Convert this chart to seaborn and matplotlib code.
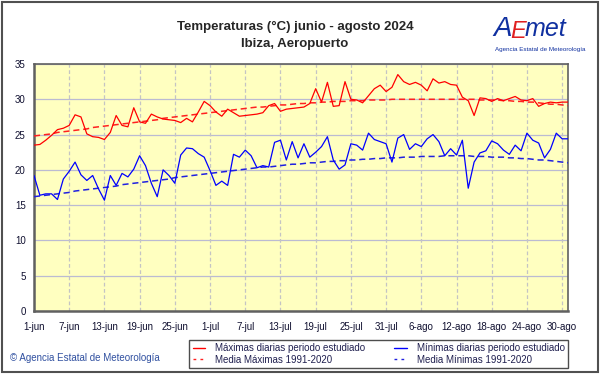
import numpy as np
import pandas as pd
import matplotlib
import matplotlib.pyplot as plt
import seaborn as sns
from matplotlib.lines import Line2D

matplotlib.use('Agg')

# Daily values, 1 June .. 31 August 2024 (92 days)
t_max = [23.5, 23.6, 24.2, 24.9, 25.7, 25.9, 26.3, 27.8, 27.5, 25.1,
         24.7, 24.6, 24.3, 25.3, 27.7, 26.3, 26.1, 28.8, 26.8, 26.6,
         27.9, 27.5, 27.2, 27.1, 27.0, 26.7, 27.3, 26.8, 28.2, 29.7,
         29.1, 28.2, 27.6, 28.6, 28.1, 27.6, 27.7, 27.8, 27.9, 28.1,
         29.1, 29.4, 28.3, 28.6, 28.7, 28.8, 28.9, 29.4, 31.5, 29.6,
         32.4, 29.0, 29.1, 32.5, 30.0, 29.9, 29.5, 30.5, 31.5, 32.0,
         31.1, 31.7, 33.5, 32.5, 32.1, 32.4, 32.0, 31.2, 32.9, 32.3,
         32.5, 32.1, 32.0, 30.3, 29.8, 27.7, 30.2, 30.1, 29.7, 30.1,
         29.8, 30.1, 30.4, 29.9, 29.8, 30.1, 29.0, 29.4, 29.6, 29.5,
         29.6, 29.6]

t_min = [19.2, 16.4, 16.6, 16.6, 15.8, 18.7, 19.8, 21.1, 19.3, 18.5,
         19.2, 17.3, 15.7, 19.2, 17.8, 19.5, 19.0, 20.1, 22.0, 20.6,
         18.1, 16.2, 20.0, 19.2, 18.1, 22.1, 23.1, 23.0, 22.3, 21.8,
         19.9, 17.8, 18.4, 17.8, 22.2, 21.8, 22.8, 22.0, 20.3, 20.6,
         20.4, 23.9, 24.2, 21.4, 24.0, 21.7, 23.7, 21.8, 22.5, 23.3,
         24.7, 21.4, 20.1, 20.7, 23.7, 23.5, 22.8, 25.2, 24.3, 24.0,
         23.7, 21.1, 24.5, 25.0, 22.9, 23.7, 23.3, 24.4, 25.0, 24.0,
         22.0, 23.0, 22.1, 24.2, 17.4, 21.1, 22.4, 22.7, 24.1, 23.7,
         22.8, 22.2, 23.5, 22.7, 25.2, 24.2, 23.8, 21.7, 22.9, 25.2,
         24.4, 24.4]

# Climatological means 1991-2020
norm_max = [24.8, 24.9, 25.0, 25.1, 25.3, 25.4, 25.5, 25.6, 25.7, 25.8,
            26.0, 26.1, 26.2, 26.3, 26.4, 26.5, 26.6, 26.7, 26.8, 26.9,
            27.0, 27.1, 27.3, 27.4, 27.5, 27.6, 27.7, 27.8, 27.9, 28.0,
            28.1, 28.2, 28.3, 28.4, 28.5, 28.6, 28.7, 28.8, 28.9, 28.9,
            29.0, 29.1, 29.2, 29.2, 29.3, 29.4, 29.4, 29.5, 29.5, 29.6,
            29.6, 29.7, 29.7, 29.7, 29.8, 29.8, 29.8, 29.9, 29.9, 29.9,
            29.9, 30.0, 30.0, 30.0, 30.0, 30.0, 30.0, 30.0, 30.0, 30.0,
            30.0, 30.0, 30.0, 30.0, 30.0, 30.0, 29.9, 29.9, 29.9, 29.9,
            29.8, 29.8, 29.7, 29.7, 29.6, 29.6, 29.5, 29.4, 29.3, 29.3,
            29.2, 29.1]

norm_min = [16.2, 16.3, 16.4, 16.5, 16.6, 16.7, 16.8, 17.0, 17.1, 17.2,
            17.3, 17.4, 17.5, 17.6, 17.7, 17.9, 18.0, 18.1, 18.2, 18.3,
            18.4, 18.5, 18.6, 18.7, 18.9, 19.0, 19.1, 19.2, 19.3, 19.4,
            19.5, 19.6, 19.7, 19.8, 19.9, 20.0, 20.1, 20.2, 20.3, 20.4,
            20.4, 20.5, 20.6, 20.7, 20.8, 20.8, 20.9, 21.0, 21.0, 21.1,
            21.2, 21.2, 21.3, 21.3, 21.4, 21.4, 21.5, 21.5, 21.6, 21.6,
            21.7, 21.7, 21.7, 21.8, 21.8, 21.8, 21.9, 21.9, 21.9, 21.9,
            22.0, 22.0, 22.0, 22.0, 22.0, 21.9, 21.9, 21.9, 21.8, 21.8,
            21.8, 21.7, 21.7, 21.6, 21.6, 21.5, 21.4, 21.4, 21.3, 21.2,
            21.1, 21.0]

tick_labels = ['1-jun', '7-jun', '13-jun', '19-jun', '25-jun', '1-jul', '7-jul',
               '13-jul', '19-jul', '25-jul', '31-jul', '6-ago', '12-ago',
               '18-ago', '24-ago', '30-ago']
y_ticks = [0, 5, 10, 15, 20, 25, 30, 35]

df = pd.DataFrame({
    'day': np.arange(len(t_max)),
    'tmax': t_max, 'tmin': t_min, 'nmax': norm_max, 'nmin': norm_min,
})

sns.set_style('white')
plt.rcParams['font.family'] = ['Liberation Sans', 'DejaVu Sans']

fig = plt.figure(figsize=(6.01, 3.74), dpi=100)
ax = fig.add_axes([34 / 601, 1 - 311 / 374, 534 / 601, 247 / 374])
ax.set_facecolor('#FFFFC0')

# grid first so lines sit on top
for y in y_ticks:
    ax.axhline(y, color='#BBBBD2', lw=0.9, zorder=1)
for i in range(len(tick_labels)):
    ax.axvline(i * 6, color='#C4C4C4', lw=0.9, ls=(0, (3, 2)), zorder=1)

sns.lineplot(data=df, x='day', y='nmax', ax=ax, color='#FF2020', lw=1.1,
             linestyle=(0, (4, 2.5)), zorder=3)
sns.lineplot(data=df, x='day', y='nmin', ax=ax, color='#2020E0', lw=1.1,
             linestyle=(0, (4, 2.5)), zorder=3)
sns.lineplot(data=df, x='day', y='tmax', ax=ax, color='#FF0000', lw=0.9, zorder=4)
sns.lineplot(data=df, x='day', y='tmin', ax=ax, color='#0000FF', lw=0.9, zorder=4)

ax.set_xlim(0, 91)
ax.set_ylim(0, 35)
ax.set_xticks([i * 6 for i in range(len(tick_labels))])
ax.set_xticklabels(tick_labels, fontsize=7)
ax.set_yticks(y_ticks)
ax.set_yticklabels([str(v) for v in y_ticks], fontsize=7)
ax.tick_params(length=0, pad=8, colors='#101030')
ax.tick_params(axis='y', pad=6)
ax.set_xlabel('')
ax.set_ylabel('')
for s in ax.spines.values():
    s.set_color('#606060')
    s.set_linewidth(1.2)
ax.spines['left'].set_linewidth(1.8)
ax.spines['bottom'].set_linewidth(1.8)

# title
title_font = ['Liberation Sans Narrow', 'Liberation Sans', 'DejaVu Sans']
fig.text(295 / 601, 1 - 27 / 374, 'Temperaturas (°C) junio - agosto 2024',
         ha='center', va='center', fontsize=9.5, fontweight='bold',
         family=title_font)
fig.text(295 / 601, 1 - 44 / 374, 'Ibiza, Aeropuerto',
         ha='center', va='center', fontsize=9.5, fontweight='bold',
         family=title_font)

# logo approximation
fig.text(493 / 601, 1 - 29 / 374, 'A', color='#1030A0', fontsize=20,
         style='italic', ha='left', va='center')
fig.text(510 / 601, 1 - 31 / 374, 'E', color='#E02020', fontsize=17,
         style='italic', ha='left', va='center')
fig.text(525 / 601, 1 - 29 / 374, 'met', color='#1030A0', fontsize=18,
         style='italic', ha='left', va='center')
fig.text(540 / 601, 1 - 50 / 374, 'Agencia Estatal de Meteorología',
         color='#1030A0', fontsize=4.5, ha='center', va='center')

# copyright
fig.text(10 / 601, 1 - 358 / 374, '© Agencia Estatal de Meteorología',
         color='#3050A0', fontsize=7, ha='left', va='center')

# legend
handles = [
    Line2D([], [], color='#FF0000', lw=1),
    Line2D([], [], color='#FF2020', lw=1, ls=(0, (2, 3))),
    Line2D([], [], color='#0000FF', lw=1),
    Line2D([], [], color='#2020E0', lw=1, ls=(0, (2, 3))),
]
labels = ['Máximas diarias periodo estudiado', 'Media Máximas 1991-2020',
          'Mínimas diarias periodo estudiado', 'Media Mínimas 1991-2020']
leg = fig.legend(handles, labels, ncol=2, loc='lower right',
                 bbox_to_anchor=(568 / 601, 1 - 368 / 374), fontsize=7,
                 frameon=True, fancybox=False, handlelength=1.3,
                 columnspacing=3.0, labelspacing=0.15, borderpad=0.35,
                 handletextpad=1.0, borderaxespad=0)
leg.get_frame().set_edgecolor('#202020')
leg.get_frame().set_linewidth(1.0)
for t in leg.get_texts():
    t.set_color('#202050')

# outer frame
fig.patches.append(plt.Rectangle((0.004, 0.006), 0.991, 0.988, fill=False,
                                 edgecolor='#505050', lw=1.5,
                                 transform=fig.transFigure, figure=fig))

fig.savefig('out.png', dpi=100, facecolor='white')
